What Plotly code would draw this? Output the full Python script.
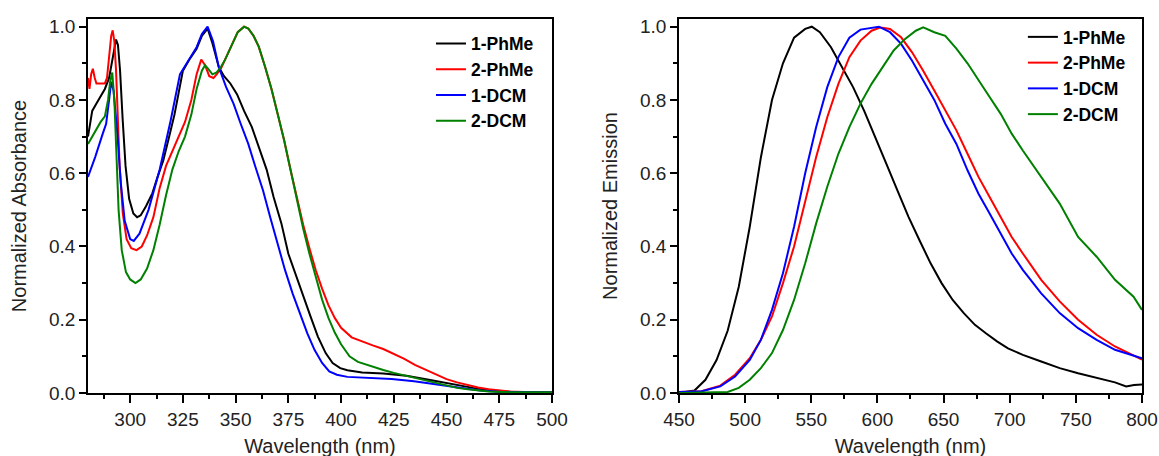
import plotly.graph_objects as go

# ---------------- Absorbance (left panel) ----------------
abs_1phme_nm = [280, 282, 284, 286, 288, 290, 292, 293.3, 294.2, 295.2, 296.4, 297.8, 299.5, 301.5,
                303.3, 305, 307.5, 310.5, 313, 315.7, 318.5, 321, 323, 325, 328, 331.5, 334, 336.7,
                339, 342, 344.5, 347.5, 350.7, 354, 357.7, 361, 364.7, 368, 371.7, 375, 378.7, 382,
                385.5, 389, 392.7, 396, 399.6, 403, 410, 420, 431, 441.6, 452, 462.6, 473, 485, 500]
abs_1phme = [0.70, 0.77, 0.79, 0.81, 0.83, 0.86, 0.92, 0.965, 0.95, 0.88, 0.75, 0.62, 0.53, 0.49,
             0.48, 0.485, 0.51, 0.545, 0.59, 0.635, 0.70, 0.76, 0.82, 0.88, 0.91, 0.94, 0.975, 0.995,
             0.955, 0.89, 0.865, 0.845, 0.815, 0.77, 0.726, 0.67, 0.61, 0.535, 0.463, 0.38, 0.318, 0.263,
             0.209, 0.154, 0.109, 0.082, 0.068, 0.062, 0.056, 0.053, 0.047, 0.036, 0.025, 0.014, 0.005, 0.002, 0.002]

abs_2phme_nm = [280, 280.7, 281.5, 282.3, 283.2, 284, 286, 288, 289, 290, 291, 291.7, 292.5, 293.3,
                294.2, 295, 296.5, 298.3, 300.5, 303, 305.5, 308, 311, 314, 317, 320, 323, 326, 329,
                331.5, 333.7, 335.5, 337.5, 339.5, 341, 343, 345, 348, 351, 354, 356, 358.5, 361, 364,
                367, 370, 373, 376, 379, 382, 385, 388, 391, 394, 397, 400, 405, 410, 415, 420, 425,
                430, 435, 440, 445, 450, 455, 460, 465, 470, 475, 480, 490, 500]
abs_2phme = [0.86, 0.83, 0.87, 0.885, 0.86, 0.845, 0.845, 0.845, 0.86, 0.92, 0.975, 0.99, 0.96, 0.88,
             0.74, 0.62, 0.49, 0.42, 0.395, 0.39, 0.40, 0.43, 0.48, 0.56, 0.62, 0.66, 0.70, 0.74, 0.80,
             0.87, 0.91, 0.895, 0.865, 0.86, 0.87, 0.885, 0.91, 0.95, 0.985, 1.0, 0.995, 0.975, 0.945, 0.89,
             0.83, 0.76, 0.69, 0.61, 0.535, 0.46, 0.395, 0.335, 0.285, 0.24, 0.205, 0.178, 0.152, 0.14,
             0.13, 0.12, 0.107, 0.093, 0.077, 0.064, 0.052, 0.038, 0.029, 0.021, 0.015, 0.01, 0.007,
             0.004, 0.002, 0.003]

abs_1dcm_nm = [280, 283.4, 287, 288.6, 290, 291, 292.1, 293, 293.9, 295.6, 297.4, 300, 301.7, 304.4,
               308.7, 314, 319.2, 323.6, 328, 331.5, 334, 336.7, 339.3, 342, 345.5, 349, 352.4, 356,
               359.4, 363, 366.4, 370, 373.4, 377, 380.4, 384, 387.4, 391, 394.4, 398, 403, 413.6, 424,
               434.6, 445, 455.6, 466, 476.6, 500]
abs_1dcm = [0.59, 0.644, 0.708, 0.735, 0.80, 0.85, 0.826, 0.77, 0.71, 0.57, 0.47, 0.42, 0.415, 0.435,
            0.50, 0.61, 0.744, 0.87, 0.912, 0.944, 0.98, 1.0, 0.96, 0.89, 0.835, 0.79, 0.735, 0.68,
            0.617, 0.553, 0.48, 0.408, 0.336, 0.272, 0.218, 0.163, 0.118, 0.082, 0.059, 0.05, 0.044,
            0.041, 0.038, 0.032, 0.023, 0.015, 0.007, 0.003, 0.002]

abs_2dcm_nm = [280, 282, 284, 286, 288, 289.5, 290.5, 291.5, 292.5, 293.5, 294.5, 296, 298, 300, 302.5,
               305, 308, 311, 314, 317, 320, 323, 326, 329, 331.5, 334, 335.5, 337, 339, 341, 343, 345,
               348, 351, 354, 356, 358.5, 361, 364, 367, 370, 373, 376, 379, 382, 385, 388, 391, 394,
               397, 400, 404, 408, 412, 416, 420, 425, 430, 435, 440, 445, 450, 455, 460, 465, 470, 480, 500]
abs_2dcm = [0.68, 0.70, 0.72, 0.74, 0.755, 0.80, 0.85, 0.875, 0.80, 0.65, 0.50, 0.39, 0.33, 0.31, 0.30,
            0.31, 0.34, 0.39, 0.46, 0.54, 0.61, 0.66, 0.70, 0.76, 0.83, 0.88, 0.895, 0.885, 0.87, 0.875,
            0.89, 0.91, 0.95, 0.985, 1.0, 0.995, 0.975, 0.945, 0.89, 0.83, 0.76, 0.69, 0.61, 0.53, 0.45,
            0.38, 0.315, 0.255, 0.205, 0.165, 0.133, 0.1, 0.085, 0.077, 0.07, 0.063, 0.055, 0.048, 0.04,
            0.033, 0.027, 0.02, 0.014, 0.01, 0.006, 0.004, 0.002, 0.002]

# ---------------- Emission (right panel) ----------------
em_1phme_nm = [450, 461.7, 470, 478.4, 486.8, 495.2, 503.5, 511.9, 520.3, 528.6, 537, 545.4, 550.4, 556.5,
               564.9, 573.3, 581.6, 590, 598.4, 606.7, 615.1, 623.5, 631.8, 640.2, 648.5, 656.9, 665.3,
               673.7, 682, 690.4, 698.7, 709.9, 723.8, 737.8, 751.7, 765.7, 779.6, 788, 794, 800]
em_1phme = [0.0, 0.007, 0.036, 0.09, 0.17, 0.29, 0.454, 0.643, 0.80, 0.90, 0.97, 0.994, 1.0, 0.985,
            0.944, 0.889, 0.835, 0.77, 0.70, 0.626, 0.553, 0.481, 0.417, 0.354, 0.30, 0.254, 0.218,
            0.186, 0.163, 0.141, 0.122, 0.104, 0.086, 0.068, 0.054, 0.041, 0.029, 0.018, 0.022, 0.023]

em_2phme_nm = [450, 467, 481.2, 492.4, 503.5, 511.9, 520.3, 528.6, 537, 545.4, 553.7, 562.1, 570.5, 578.8,
               587.2, 595.6, 602.5, 609.5, 617.9, 626.2, 634.6, 643, 651.3, 659.7, 668.1, 676.4, 684.8,
               693.2, 701.5, 709.9, 723.8, 737.8, 751.7, 765.7, 779.6, 800]
em_2phme = [0.003, 0.005, 0.02, 0.05, 0.095, 0.145, 0.209, 0.30, 0.40, 0.526, 0.644, 0.753, 0.844, 0.917,
            0.962, 0.989, 0.998, 0.994, 0.971, 0.93, 0.88, 0.826, 0.77, 0.717, 0.653, 0.59, 0.535,
            0.481, 0.426, 0.381, 0.309, 0.25, 0.20, 0.159, 0.127, 0.091]

em_1dcm_nm = [450, 467.3, 481.2, 492.4, 503.5, 511.9, 520.3, 528.6, 537, 545.4, 553.7, 562.1, 570.5, 578.8,
              587.2, 595.6, 601.1, 609.5, 617.9, 626.2, 634.6, 643, 651.3, 659.7, 668.1, 676.4, 684.8,
              693.2, 701.5, 709.9, 723.8, 737.8, 751.7, 765.7, 779.6, 800]
em_1dcm = [0.003, 0.005, 0.018, 0.045, 0.09, 0.145, 0.227, 0.327, 0.454, 0.60, 0.726, 0.835, 0.917, 0.97,
           0.992, 0.998, 1.0, 0.985, 0.953, 0.907, 0.853, 0.80, 0.735, 0.68, 0.608, 0.544, 0.49,
           0.436, 0.381, 0.336, 0.272, 0.218, 0.177, 0.145, 0.118, 0.095]

em_2dcm_nm = [450, 486.8, 495.2, 503.5, 511.9, 520.3, 528.6, 537, 545.4, 553.7, 562.1, 570.5, 578.8, 587.2,
              595.6, 603.9, 612.3, 620.7, 629, 634.6, 643, 651.3, 659.7, 668.1, 676.4, 684.8, 693.2,
              701.5, 709.9, 723.8, 737.8, 751.7, 765.7, 779.6, 793.6, 800]
em_2dcm = [0.0, 0.003, 0.014, 0.036, 0.068, 0.109, 0.172, 0.254, 0.354, 0.463, 0.563, 0.653, 0.726, 0.79,
           0.844, 0.889, 0.935, 0.966, 0.989, 0.998, 0.985, 0.975, 0.94, 0.90, 0.853, 0.808, 0.762,
           0.708, 0.662, 0.59, 0.517, 0.426, 0.372, 0.309, 0.263, 0.227]

series_names = ["1-PhMe", "2-PhMe", "1-DCM", "2-DCM"]
series_colors = ["#000000", "#FF0000", "#0000FF", "#008000"]

abs_data = [(abs_1phme_nm, abs_1phme), (abs_2phme_nm, abs_2phme),
            (abs_1dcm_nm, abs_1dcm), (abs_2dcm_nm, abs_2dcm)]
em_data = [(em_1phme_nm, em_1phme), (em_2phme_nm, em_2phme),
           (em_1dcm_nm, em_1dcm), (em_2dcm_nm, em_2dcm)]

FONT = "Liberation Sans, Arial, sans-serif"
TICK_SIZE = 19
TITLE_SIZE = 20
LEG_SIZE = 17.5

fig = go.Figure()
for (x, y), name, col in zip(abs_data, series_names, series_colors):
    fig.add_trace(go.Scatter(x=x, y=y, mode="lines", name=name, line=dict(color=col, width=2),
                             xaxis="x", yaxis="y", legend="legend"))
for (x, y), name, col in zip(em_data, series_names, series_colors):
    fig.add_trace(go.Scatter(x=x, y=y, mode="lines", name=name, line=dict(color=col, width=2),
                             xaxis="x2", yaxis="y2", legend="legend2"))

axis_common = dict(showgrid=False, zeroline=False, showline=True, linecolor="black", linewidth=1.5,
                   mirror=True, ticks="outside", tickcolor="black", tickwidth=1.5,
                   tickfont=dict(family=FONT, size=TICK_SIZE, color="#222"))
title_font = dict(family=FONT, size=TITLE_SIZE, color="#222")
leg_font = dict(family=FONT, size=LEG_SIZE, color="black", weight="bold")

X_STANDOFF = 10
Y_STANDOFF = 17

# figure is a little taller than the window so the x titles run off the bottom edge, as in the reference
fig.update_layout(
    width=1159, height=470,
    margin=dict(l=88, r=17, t=19, b=77),
    paper_bgcolor="white", plot_bgcolor="white",
    font=dict(family=FONT, color="#222"),
    xaxis=dict(domain=[0, 0.4402], range=[280, 500], tick0=0, dtick=25, ticklen=8,
               minor=dict(ticks="outside", dtick=12.5, ticklen=4, tickwidth=1.5, tickcolor="black"),
               title=dict(text="Wavelength (nm)", font=title_font, standoff=X_STANDOFF),
               anchor="y", automargin="top", **axis_common),
    yaxis=dict(domain=[0, 1], range=[0, 1.021], tick0=0, dtick=0.2, tickformat=".1f", ticklen=7,
               minor=dict(ticks="outside", dtick=0.1, ticklen=4, tickwidth=1.5, tickcolor="black"),
               title=dict(text="Normalized Absorbance", font=title_font, standoff=Y_STANDOFF),
               anchor="x", automargin="right", **axis_common),
    xaxis2=dict(domain=[0.5607, 1], range=[450, 800], tick0=0, dtick=50, ticklen=8,
                minor=dict(ticks="outside", dtick=25, ticklen=4, tickwidth=1.5, tickcolor="black"),
                title=dict(text="Wavelength (nm)", font=title_font, standoff=X_STANDOFF),
                anchor="y2", automargin="top", **axis_common),
    yaxis2=dict(domain=[0, 1], range=[0, 1.021], tick0=0, dtick=0.2, tickformat=".1f", ticklen=7,
                minor=dict(ticks="outside", dtick=0.1, ticklen=4, tickwidth=1.5, tickcolor="black"),
                title=dict(text="Normalized Emission", font=title_font, standoff=Y_STANDOFF),
                anchor="x2", automargin="right", **axis_common),
    legend=dict(x=0.3254, y=0.9826, xanchor="left", yanchor="top", bgcolor="rgba(0,0,0,0)",
                font=leg_font),
    legend2=dict(x=0.887, y=1.0, xanchor="left", yanchor="top", bgcolor="rgba(0,0,0,0)",
                 font=leg_font),
)

fig.write_html(
    "out.html",
    config={"displayModeBar": False},
    post_script=("document.body.style.margin='0';"
                 "document.body.style.overflow='hidden';"
                 "document.documentElement.style.overflow='hidden';"),
)
